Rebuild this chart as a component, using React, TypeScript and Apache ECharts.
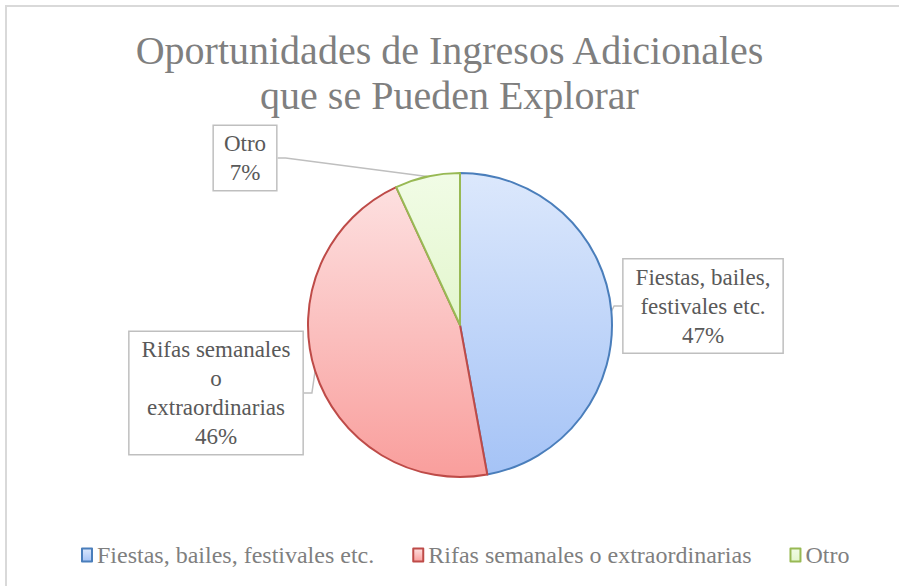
import React, { useEffect, useRef } from "react";
import * as echarts from "echarts";

const categories = [
  "Fiestas, bailes, festivales etc.",
  "Rifas semanales o extraordinarias",
  "Otro",
];
const labelTexts = [
  "Fiestas, bailes,\nfestivales etc.",
  "Rifas semanales\no\nextraordinarias",
  "Otro",
];
const values = [41, 40, 6];

const topColors = ["#dce8fc", "#fde0e0", "#f1fce6"];
const bottomColors = ["#a5c3f6", "#f99e9c", "#e3f6cd"];
const borderColors = ["#4a7ebb", "#be4b48", "#98b954"];
const labelCenters = [
  [703, 306],
  [216, 393],
  [245, 158],
];
const labelPadX = [12, 12, 10];

const FONT = "Liberation Serif";

export default function App() {
  const ref = useRef<HTMLDivElement>(null);
  useEffect(() => {
    if (!ref.current) return;
    const chart = echarts.init(ref.current, null, { renderer: "svg" });
    chart.setOption({
      animation: false,
      backgroundColor: "#ffffff",
      title: {
        text: "Oportunidades de Ingresos Adicionales\nque se Pueden Explorar",
        left: "center",
        top: 23,
        textStyle: {
          fontFamily: FONT,
          fontSize: 40,
          fontWeight: "normal",
          lineHeight: 45,
          color: "#7f7f7f",
        },
      },
      graphic: [
        {
          type: "rect",
          shape: { x: 6, y: 6, width: 1000, height: 1000 },
          style: { fill: "none", stroke: "#d9d9d9", lineWidth: 2 },
          silent: true,
        },
      ],
      legend: {
        bottom: 14,
        left: 76,
        icon: "rect",
        itemWidth: 10,
        itemHeight: 13,
        itemGap: 38,
        textStyle: { fontFamily: FONT, fontSize: 24, color: "#7f7f7f" },
        data: categories,
      },
      series: [
        {
          type: "pie",
          center: [460, 325],
          radius: 152,
          startAngle: 90,
          clockwise: true,
          percentPrecision: 0,
          data: categories.map((c, i) => ({
            name: c,
            value: values[i],
            itemStyle: {
              color: new echarts.graphic.LinearGradient(0, 0, 0, 1, [
                { offset: 0, color: topColors[i] },
                { offset: 1, color: bottomColors[i] },
              ]),
              borderColor: borderColors[i],
              borderWidth: 2,
            },
            label: { padding: [4, labelPadX[i], 2, labelPadX[i]] },
          })),
          label: {
            show: true,
            position: "outside",
            formatter: (p: any) => labelTexts[p.dataIndex] + "\n" + p.percent + "%",
            fontFamily: FONT,
            fontSize: 23,
            lineHeight: 29,
            color: "#595959",
            align: "center",
            backgroundColor: "#ffffff",
            borderColor: "#bfbfbf",
            borderWidth: 1.5,
          },
          labelLine: {
            show: true,
            length: 8,
            length2: 8,
            lineStyle: { color: "#bfbfbf", width: 1.5 },
          },
          labelLayout: (params: any) => {
            const c = labelCenters[params.dataIndex];
            return { x: c[0], y: c[1], align: "center", verticalAlign: "middle" };
          },
          emphasis: { disabled: true },
        },
      ],
    });
    return () => chart.dispose();
  }, []);
  return (
    <div
      ref={ref}
      style={{ position: "fixed", left: 0, top: 0, width: 899, height: 586 }}
    />
  );
}
